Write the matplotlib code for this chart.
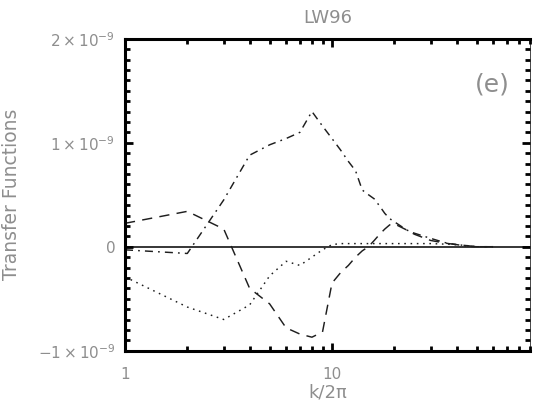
import matplotlib
matplotlib.use("Agg")
import matplotlib.pyplot as plt
from matplotlib.ticker import FixedLocator, NullFormatter, FixedFormatter

plt.rcParams['font.family'] = ['DejaVu Sans']
plt.rcParams['mathtext.fontset'] = 'dejavusans'

# wavenumber k/2pi
k = [1, 2, 3, 4, 5, 6, 7, 8, 9, 10, 11, 12, 13, 14, 15, 16, 17, 18, 19, 20,
     23, 25, 30, 35, 40, 45, 50, 60]

# transfer functions (units of 1e-9)
t_dashdot = [-0.03, -0.065, 0.45, 0.88, 0.98, 1.04, 1.10, 1.30, 1.16, 1.04, 0.93, 0.82,
             0.73, 0.545, 0.50, 0.46, 0.39, 0.32, 0.27, 0.24,
             0.16, 0.13, 0.08, 0.04, 0.02, 0.005, 0.0, 0.0]
t_dashed = [0.225, 0.34, 0.17, -0.40, -0.55, -0.78, -0.84, -0.87, -0.82, -0.35, -0.25, -0.18,
            -0.10, -0.04, 0.0, 0.06, 0.12, 0.17, 0.21, 0.22,
            0.16, 0.12, 0.06, 0.035, 0.02, 0.01, 0.0, 0.0]
t_dotted = [-0.29, -0.58, -0.70, -0.56, -0.28, -0.14, -0.18, -0.10, -0.03, 0.02, 0.03, 0.03,
            0.03, 0.03, 0.03, 0.03, 0.03, 0.03, 0.03, 0.03,
            0.03, 0.03, 0.03, 0.025, 0.02, 0.01, 0.0, 0.0]
scale = 1e-9

xlim = (1, 91)
ylim = (-1e-9, 2e-9)
yticks = [-1e-9, 0, 1e-9, 2e-9]
ytick_labels = [r'$-1\times10^{-9}$', '0', r'$1\times10^{-9}$', r'$2\times10^{-9}$']
xticks = [1, 10]
xtick_labels = ['1', '10']

gray = '#8e8e8e'
ink = '#1e1e1e'

fig = plt.figure(figsize=(5.33, 4.07), dpi=100)
ax = fig.add_axes([0.2345, 0.1383, 0.7608, 0.7666])

ax.axhline(0, color='black', lw=1.1, zorder=1)
ax.plot(k, [v * scale for v in t_dashdot], color=ink, lw=1.05,
        linestyle=(0, (5.5, 3.5, 1.2, 3.5)))
ax.plot(k, [v * scale for v in t_dashed], color=ink, lw=1.05,
        linestyle=(0, (7, 5)))
ax.plot(k, [v * scale for v in t_dotted], color=ink, lw=1.05,
        linestyle=(0, (1.1, 3.2)))

ax.set_xscale('log')
ax.set_xlim(*xlim)
ax.set_ylim(*ylim)

ax.xaxis.set_major_locator(FixedLocator(xticks))
ax.xaxis.set_major_formatter(FixedFormatter(xtick_labels))
ax.xaxis.set_minor_locator(FixedLocator([2, 3, 4, 5, 6, 7, 8, 9, 20, 30, 40, 50, 60, 70, 80, 90]))
ax.xaxis.set_minor_formatter(NullFormatter())

ax.yaxis.set_major_locator(FixedLocator(yticks))
ax.yaxis.set_major_formatter(FixedFormatter(ytick_labels))
ax.yaxis.set_minor_locator(FixedLocator([i * 1e-10 for i in range(-10, 21)]))

ax.tick_params(which='both', direction='in', top=True, right=True, color='black')
ax.tick_params(which='major', length=6, width=2.0, labelsize=11, labelcolor=gray, pad=7)
ax.tick_params(which='minor', length=3.5, width=2.0)
ax.tick_params(axis='x', which='major', pad=12)

for side in ['left', 'bottom', 'top']:
    ax.spines[side].set_linewidth(2.2)
ax.spines['right'].set_linewidth(0.5)

ax.set_title('LW96', color=gray, fontsize=13, pad=11)
ax.set_xlabel('k/2π', color=gray, fontsize=13, labelpad=1)
ax.set_ylabel('Transfer Functions', color=gray, fontsize=13.5, labelpad=12)
ax.text(0.949, 0.852, '(e)', transform=ax.transAxes, ha='right', va='center',
        color=gray, fontsize=18)

fig.savefig('out.png', dpi=100)
